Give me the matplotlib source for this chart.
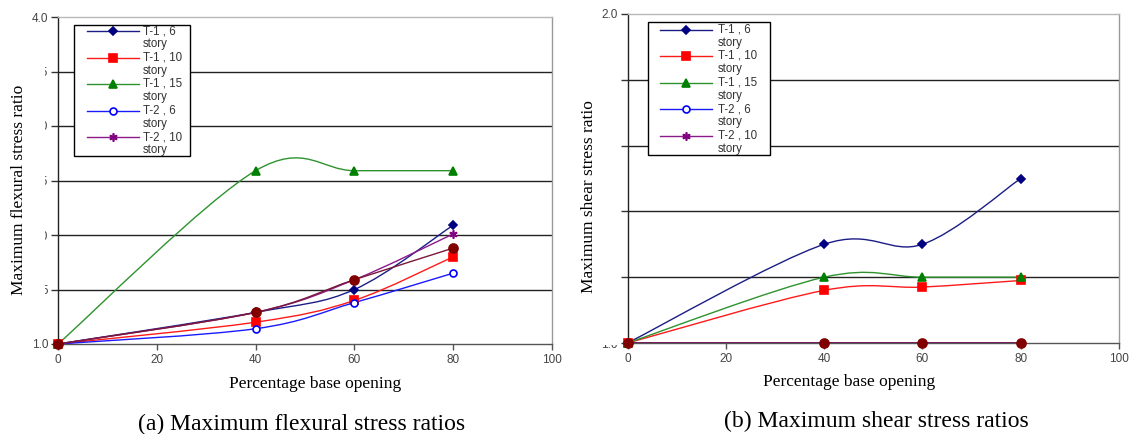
import matplotlib
matplotlib.use("Agg")
import matplotlib.pyplot as plt
from matplotlib.path import Path
from matplotlib.patches import PathPatch, Rectangle
from matplotlib.lines import Line2D
from matplotlib.transforms import Bbox, TransformedBbox

# ---------------- data ----------------
openings = [0, 40, 60, 80]

series_names = ["T-1 , 6\nstory", "T-1 , 10\nstory", "T-1 , 15\nstory",
                "T-2 , 6\nstory", "T-2 , 10\nstory", "T-2 , 15\nstory"]

flex_T1_6 = [1.00, 1.29, 1.50, 2.09]
flex_T1_10 = [1.00, 1.20, 1.40, 1.80]
flex_T1_15 = [1.00, 2.59, 2.59, 2.59]
flex_T2_6 = [1.00, 1.14, 1.38, 1.65]
flex_T2_10 = [1.00, 1.29, 1.59, 2.01]
flex_T2_15 = [1.00, 1.29, 1.59, 1.88]

shear_T1_6 = [1.00, 1.30, 1.30, 1.50]
shear_T1_10 = [1.00, 1.16, 1.17, 1.19]
shear_T1_15 = [1.00, 1.20, 1.20, 1.20]
shear_T2_6 = [1.00, 1.00, 1.00, 1.00]
shear_T2_10 = [1.00, 1.00, 1.00, 1.00]
shear_T2_15 = [1.00, 1.00, 1.00, 1.00]

x_ticks = [0, 20, 40, 60, 80, 100]
flex_yticks = [1.0, 1.5, 2.0, 2.5, 3.0, 3.5, 4.0]
flex_ylabels = ["1.0", "1.5", "2.0", "2.5", "3.0", "3.5", "4.0"]
shear_yticks = [1.0, 1.2, 1.4, 1.6, 1.8, 2.0]
shear_ylabels = ["1.0", "1.2", "1.4", "1.6", "1.8", "2.0"]

# ---------------- styles ----------------
styles = [
    dict(color="#1c1c86", marker="D", ms=4.2, mfc="#000080", mec="#000080"),
    dict(color="#ff1a1a", marker="s", ms=6.0, mfc="#ff0000", mec="#ff0000"),
    dict(color="#2e932e", marker="^", ms=6.0, mfc="#008000", mec="#008000"),
    dict(color="#1a1aff", marker="o", ms=5.0, mfc="white", mec="#0000ff"),
    dict(color="#8a1a8a", marker=(6, 2, 0), ms=6.0, mfc="#800080", mec="#800080"),
    dict(color="#7a1838", marker="o", ms=6.5, mfc="#800000", mec="#800000"),
]

W, H = 1130, 434
fig = plt.figure(figsize=(W / 100, H / 100), dpi=100)
fig.patch.set_facecolor("white")

serif = ["Liberation Serif", "DejaVu Serif"]
sans = ["Liberation Sans", "DejaVu Sans"]


def px_ax(x0, y0, x1, y1):
    return [x0 / W, 1 - y1 / H, (x1 - x0) / W, (y1 - y0) / H]


def smooth_path(xs, ys):
    """Excel-like smoothed line: cubic Bezier through the points (Catmull-Rom control points)."""
    pts = list(zip(xs, ys))
    verts = [pts[0]]
    codes = [Path.MOVETO]
    n = len(pts)
    for i in range(n - 1):
        p0 = pts[i - 1] if i > 0 else pts[i]
        p1 = pts[i]
        p2 = pts[i + 1]
        p3 = pts[i + 2] if i + 2 < n else pts[i + 1]
        c1 = (p1[0] + (p2[0] - p0[0]) / 6, p1[1] + (p2[1] - p0[1]) / 6)
        c2 = (p2[0] - (p3[0] - p1[0]) / 6, p2[1] - (p3[1] - p1[1]) / 6)
        verts += [c1, c2, p2]
        codes += [Path.CURVE4] * 3
    return Path(verts, codes)


def setup_axes(ax, yticks, ylabels, ylim):
    ax.set_xlim(0, 100)
    ax.set_ylim(*ylim)
    ax.set_xticks(x_ticks)
    ax.set_xticklabels([str(v) for v in x_ticks], fontfamily=sans, fontsize=8.5, color="#444444")
    ax.set_yticks(yticks)
    ax.set_yticklabels(ylabels, fontfamily=sans, fontsize=8.5, color="#444444")
    ax.tick_params(axis="x", length=4, width=1, color="#555555", pad=3, direction="out")
    ax.tick_params(axis="y", length=5, width=1, color="#333333", pad=2, direction="out")
    for yv in yticks[1:-1]:
        ax.axhline(yv, color="#222222", lw=1.0, zorder=1)
    ax.spines["left"].set_color("#222222")
    ax.spines["bottom"].set_color("#555555")
    ax.spines["top"].set_color("#b8b8b8")
    ax.spines["right"].set_color("#999999")
    for s in ax.spines.values():
        s.set_linewidth(1.0)


def draw_series(ax, data):
    for vals, st in zip(data, styles):
        patch = PathPatch(smooth_path(openings, vals), fill=False,
                          edgecolor=st["color"], lw=1.0, zorder=3)
        ax.add_patch(patch)
        ax.plot(openings, vals, linestyle="none", marker=st["marker"], ms=st["ms"],
                mfc=st["mfc"], mec=st["mec"], mew=1.2, zorder=4, clip_on=False)


def draw_legend(box, hx0, hx1, tx, rows):
    x0, y0, x1, y1 = box
    fig.add_artist(Rectangle((x0 / W, 1 - y1 / H), (x1 - x0) / W, (y1 - y0) / H,
                             transform=fig.transFigure, facecolor="white",
                             edgecolor="black", lw=1.0, zorder=5))
    for name, st, ry in zip(series_names[:5], styles[:5], rows):
        fy = 1 - ry / H
        fig.add_artist(Line2D([hx0 / W, hx1 / W], [fy, fy], transform=fig.transFigure,
                              color=st["color"], lw=1.0, zorder=6))
        fig.add_artist(Line2D([(hx0 + hx1) / 2 / W], [fy], transform=fig.transFigure,
                              marker=st["marker"], ms=st["ms"], mfc=st["mfc"],
                              mec=st["mec"], mew=1.2, linestyle="none", zorder=7))
        first, second = name.split("\n")
        fig.text(tx / W, fy, first, fontfamily=sans, fontsize=8.3, color="#333333",
                 va="center", ha="left", zorder=8)
        fig.text(tx / W, 1 - (ry + 13.2) / H, second, fontfamily=sans, fontsize=8.3,
                 color="#333333", va="center", ha="left", zorder=8)


# ---------------- left: flexural ----------------
ax1 = fig.add_axes(px_ax(58, 17, 552, 344))
setup_axes(ax1, flex_yticks, flex_ylabels, (1.0, 4.0))
draw_series(ax1, [flex_T1_6, flex_T1_10, flex_T1_15, flex_T2_6, flex_T2_10, flex_T2_15])
ax1.set_xlabel("Percentage base opening", fontfamily=serif, fontsize=12.5, color="black")
ax1.xaxis.set_label_coords(0.52, -0.098)
ax1.set_ylabel("Maximum flexural stress ratio", fontfamily=serif, fontsize=12.5, color="black")
ax1.yaxis.set_label_coords(-0.062, 0.47)
clip_left = TransformedBbox(Bbox.from_extents(45 / W, 0, 53 / W, 1), fig.transFigure)
for tk in ax1.yaxis.get_major_ticks()[1:-1]:
    tk.label1.set_clip_on(True)
    tk.label1.set_clip_box(clip_left)

# ---------------- right: shear ----------------
ax2 = fig.add_axes(px_ax(627.5, 14, 1119, 343))
setup_axes(ax2, shear_yticks, shear_ylabels, (1.0, 2.0))
draw_series(ax2, [shear_T1_6, shear_T1_10, shear_T1_15, shear_T2_6, shear_T2_10, shear_T2_15])
ax2.set_xlabel("Percentage base opening", fontfamily=serif, fontsize=12.5, color="black")
ax2.xaxis.set_label_coords(0.451, -0.094)
ax2.set_ylabel("Maximum shear stress ratio", fontfamily=serif, fontsize=12.5, color="black")
ax2.yaxis.set_label_coords(-0.062, 0.445)
for tk in ax2.yaxis.get_major_ticks()[1:-1]:
    tk.label1.set_visible(False)
clip_bot = TransformedBbox(Bbox.from_extents(0, 0, 1, (H - 345) / H), fig.transFigure)
tb = ax2.yaxis.get_major_ticks()[0]
tb.label1.set_clip_on(True)
tb.label1.set_clip_box(clip_bot)

# ---------------- legends ----------------
draw_legend((74, 25, 190, 156), 87, 139, 143, [31, 57.5, 84, 110.5, 137])
draw_legend((648, 22, 770, 155), 660, 712, 718, [29.5, 56, 82.5, 109, 135.5])

# ---------------- captions ----------------
fig.text(302 / W, 1 - 424 / H, "(a) Maximum flexural stress ratios", fontfamily=serif,
         fontsize=17, ha="center", va="center", color="black")
fig.text(876 / W, 1 - 421 / H, "(b) Maximum shear stress ratios", fontfamily=serif,
         fontsize=17, ha="center", va="center", color="black")

fig.savefig("out.png", dpi=100)
